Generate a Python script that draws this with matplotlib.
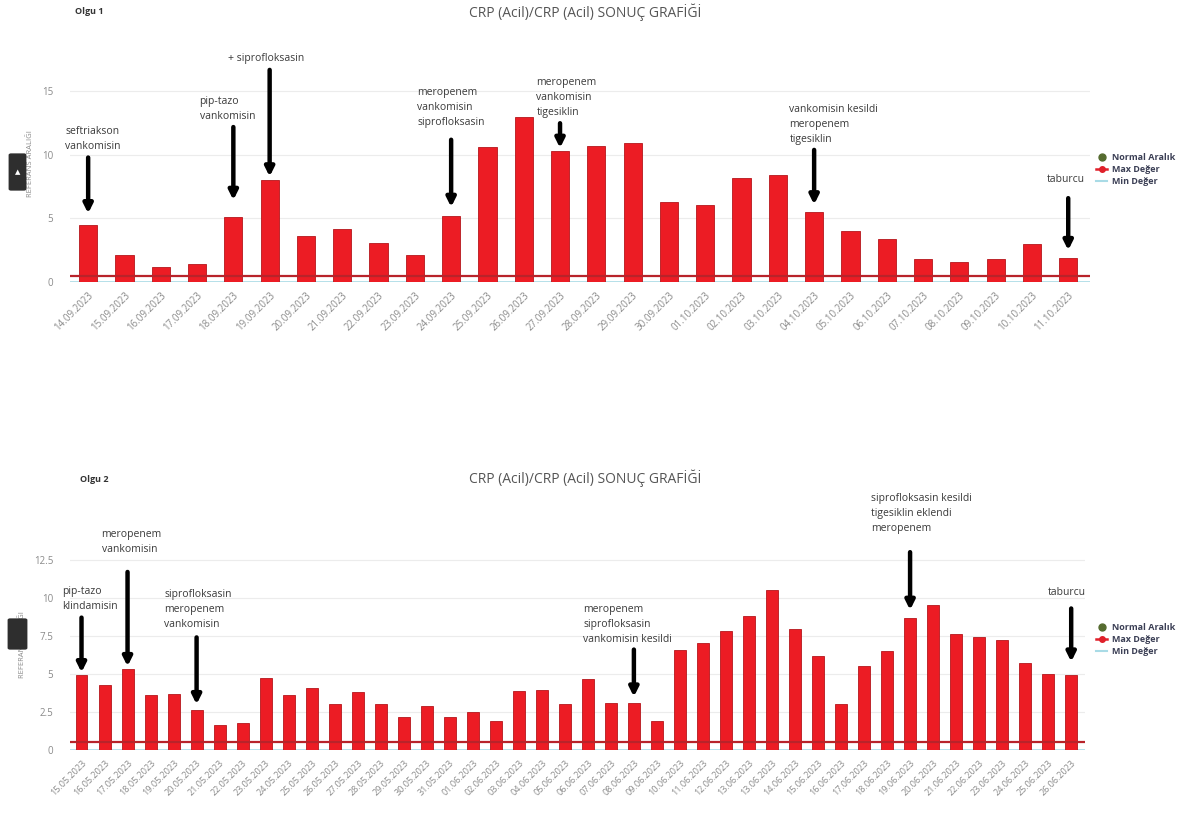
import numpy as np
import matplotlib
matplotlib.use("Agg")
import matplotlib.pyplot as plt
from matplotlib.lines import Line2D
from matplotlib.patches import FancyBboxPatch

plt.rcParams['font.family'] = ['Open Sans', 'DejaVu Sans']

# -------- Olgu 1 --------
dates1 = ["14.09.2023", "15.09.2023", "16.09.2023", "17.09.2023", "18.09.2023",
          "19.09.2023", "20.09.2023", "21.09.2023", "22.09.2023", "23.09.2023",
          "24.09.2023", "25.09.2023", "26.09.2023", "27.09.2023", "28.09.2023",
          "29.09.2023", "30.09.2023", "01.10.2023", "02.10.2023", "03.10.2023",
          "04.10.2023", "05.10.2023", "06.10.2023", "07.10.2023", "08.10.2023",
          "09.10.2023", "10.10.2023", "11.10.2023"]
crp1 = [4.5, 2.1, 1.2, 1.4, 5.15, 8.0, 3.6, 4.2, 3.1, 2.1,
        5.2, 10.6, 13.0, 10.3, 10.7, 10.95, 6.3, 6.1, 8.2, 8.4,
        5.5, 4.0, 3.4, 1.8, 1.55, 1.8, 3.0, 1.9]
notes1_idx = [0, 4, 5, 10, 13, 20, 27]
notes1_txt = ["seftriakson\nvankomisin", "pip-tazo\nvankomisin", "+ siprofloksasin",
              "meropenem\nvankomisin\nsiprofloksasin", "meropenem\nvankomisin\ntigesiklin",
              "vankomisin kesildi\nmeropenem\ntigesiklin", "taburcu"]

# -------- Olgu 2 --------
dates2 = ["15.05.2023", "16.05.2023", "17.05.2023", "18.05.2023", "19.05.2023",
          "20.05.2023", "21.05.2023", "22.05.2023", "23.05.2023", "24.05.2023",
          "25.05.2023", "26.05.2023", "27.05.2023", "28.05.2023", "29.05.2023",
          "30.05.2023", "31.05.2023", "01.06.2023", "02.06.2023", "03.06.2023",
          "04.06.2023", "05.06.2023", "06.06.2023", "07.06.2023", "08.06.2023",
          "09.06.2023", "10.06.2023", "11.06.2023", "12.06.2023", "13.06.2023",
          "13.06.2023", "14.06.2023", "15.06.2023", "16.06.2023", "17.06.2023",
          "18.06.2023", "19.06.2023", "20.06.2023", "21.06.2023", "22.06.2023",
          "23.06.2023", "24.06.2023", "25.06.2023", "26.06.2023"]
crp2 = [4.9, 4.25, 5.3, 3.6, 3.65, 2.6, 1.65, 1.8, 4.75, 3.6,
        4.05, 3.05, 3.8, 3.05, 2.2, 2.9, 2.2, 2.5, 1.9, 3.85,
        3.95, 3.05, 4.65, 3.1, 3.1, 1.9, 6.55, 7.0, 7.85, 8.8,
        10.5, 7.95, 6.15, 3.05, 5.5, 6.5, 8.7, 9.55, 7.6, 7.45,
        7.2, 5.75, 4.97, 4.95]
notes2_idx = [0, 2, 5, 24, 36, 43]
notes2_txt = ["pip-tazo\nklindamisin", "meropenem\nvankomisin",
              "siprofloksasin\nmeropenem\nvankomisin",
              "meropenem\nsiprofloksasin\nvankomisin kesildi",
              "siprofloksasin kesildi\ntigesiklin eklendi\nmeropenem", "taburcu"]

max_deger = 0.5
min_deger = 0.0

# -------- Layout (annotation placement) --------
# text (x offset from bar, y bottom), arrow (top, tip)
lay1_text = [(-0.63, 10.2), (-0.93, 12.6), (-1.16, 17.2), (-0.94, 12.1),
             (-0.65, 12.9), (-0.68, 10.8), (-0.6, 7.6)]
lay1_arrow = [(9.8, 5.4), (12.2, 6.45), (16.7, 8.3), (11.2, 5.9),
              (12.5, 10.55), (10.4, 6.1), (6.6, 2.5)]
lay2_text = [(-0.85, 9.1), (-1.13, 12.8), (-1.4, 7.9), (-2.2, 6.9),
             (-1.7, 14.2), (-1.0, 10.0)]
lay2_arrow = [(8.7, 5.1), (11.7, 5.5), (7.4, 3.0), (6.6, 3.5),
              (13.0, 9.2), (9.3, 5.8)]

BAR = '#ec1c24'
GRAY = '#8a8a8a'
TXT = '#3a3a3a'

fig = plt.figure(figsize=(12.04, 8.16), dpi=100)


def draw_panel(ax, dates, vals, ticks, ylim, idxs, txts, lay_t, lay_a, width, xfs):
    x = np.arange(len(vals))
    ax.bar(x, vals, width=width, color=BAR, edgecolor='#b5161b', linewidth=0.6, zorder=3)
    ax.axhline(max_deger, color='#b8232a', lw=1.6, zorder=4)
    ax.axhline(min_deger, color='#a9dbe6', lw=1.2, zorder=2)
    ax.set_xlim(-0.5, len(vals) - 0.5 + 0.1)
    ax.set_ylim(*ylim)
    ax.set_yticks(ticks)
    ax.set_yticklabels([f"{t:g}" for t in ticks], fontsize=7, color=GRAY)
    ax.set_xticks(x)
    ax.set_xticklabels(dates, rotation=45, ha='right', rotation_mode='anchor',
                       fontsize=xfs, color=GRAY)
    ax.tick_params(axis='x', length=0, pad=6)
    ax.tick_params(axis='y', length=0, pad=12)
    ax.grid(axis='y', color='#ececec', lw=0.8, zorder=0)
    for s in ax.spines.values():
        s.set_visible(False)
    for i, t, (dx, ty), (atop, atip) in zip(idxs, txts, lay_t, lay_a):
        ax.text(i + dx, ty, t, ha='left', va='bottom', fontsize=7.5, color=TXT,
                linespacing=1.5, clip_on=False)
        ax.annotate('', xy=(i, atip), xytext=(i, atop), annotation_clip=False,
                    arrowprops=dict(arrowstyle='-|>', lw=3.2, color='black',
                                    mutation_scale=13, shrinkA=0, shrinkB=0))
    ax.set_ylabel("REFERANS ARALIĞI", fontsize=5.5, color=GRAY, labelpad=6)


def add_legend(ypx):
    handles = [Line2D([], [], marker='o', color='#556b2f', ls='none', markersize=5),
               Line2D([], [], marker='o', color='#e0202a', lw=1.8, markersize=4),
               Line2D([], [], color='#a9dbe6', lw=1.5)]
    fig.legend(handles, ["Normal Aralık", "Max Değer", "Min Değer"],
               loc='upper left', bbox_to_anchor=(1088 / 1204, 1 - ypx / 816),
               frameon=False, handlelength=1.2, handletextpad=0.6,
               labelspacing=0.35, prop={'size': 6.5, 'weight': 'bold'},
               labelcolor='#3b3f55')


def add_tab(x0, y0, w, h, mark):
    fig.patches.append(FancyBboxPatch((x0 / 1204, 1 - (y0 + h) / 816), w / 1204, h / 816,
                                      boxstyle='round,pad=0.002', fc='#2e2e2e', ec='none',
                                      transform=fig.transFigure, figure=fig))
    if mark:
        fig.text((x0 + w / 2) / 1204, 1 - (y0 + h / 2) / 816, mark, ha='center',
                 va='center', fontsize=5, color='white', family='DejaVu Sans')


ax1 = fig.add_axes([70 / 1204, 1 - 282 / 816, 1020 / 1204, 237 / 816])
draw_panel(ax1, dates1, crp1, [0, 5, 10, 15], (0, 18.66),
           notes1_idx, notes1_txt, lay1_text, lay1_arrow, 0.5, 7)

ax2 = fig.add_axes([70 / 1204, 1 - 750 / 816, 1015 / 1204, 210 / 816])
draw_panel(ax2, dates2, crp2, [0, 2.5, 5, 7.5, 10, 12.5], (0, 13.8),
           notes2_idx, notes2_txt, lay2_text, lay2_arrow, 0.52, 6.5)

fig.text(585 / 1204, 1 - 12 / 816, "CRP (Acil)/CRP (Acil) SONUÇ GRAFİĞİ",
         ha='center', va='center', fontsize=10, color='#555555')
fig.text(585 / 1204, 1 - 478 / 816, "CRP (Acil)/CRP (Acil) SONUÇ GRAFİĞİ",
         ha='center', va='center', fontsize=10, color='#555555')
fig.text(75 / 1204, 1 - 12 / 816, "Olgu 1", ha='left', va='center',
         fontsize=6.5, weight='bold', color='#333333')
fig.text(80 / 1204, 1 - 480 / 816, "Olgu 2", ha='left', va='center',
         fontsize=6.5, weight='bold', color='#333333')

# dark side tabs
add_tab(11, 155, 13, 34, "▲")
add_tab(10, 620, 15, 28, "")

add_legend(145)
add_legend(615)

fig.savefig("out.png", dpi=100)
